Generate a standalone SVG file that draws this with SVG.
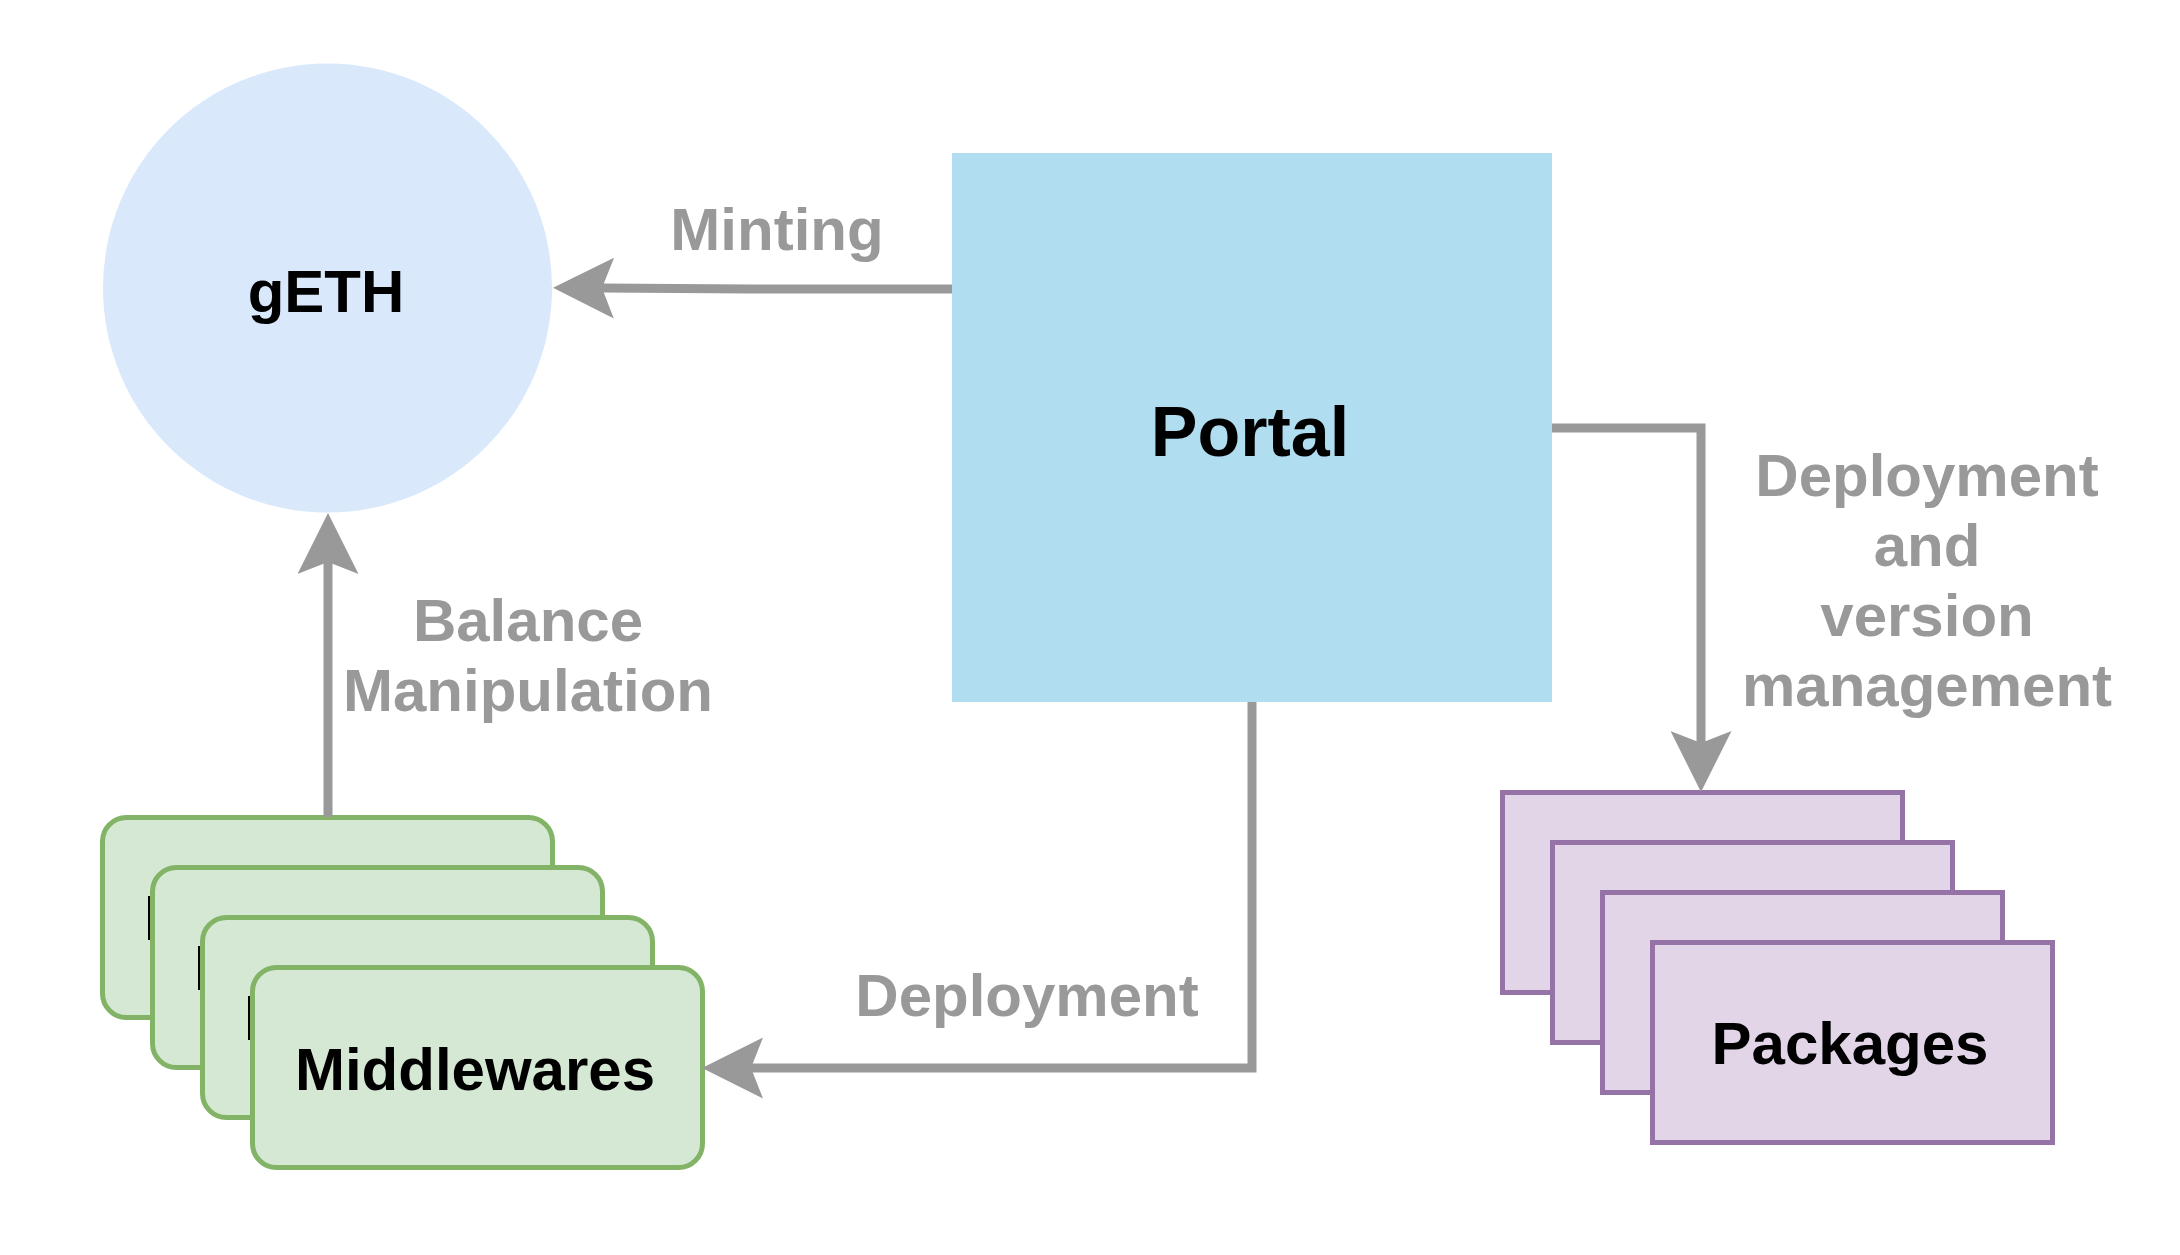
<svg xmlns="http://www.w3.org/2000/svg" width="2180" height="1255" viewBox="0 0 2180 1255">
  <defs>
    <style>
      .lbl { font-family: "Liberation Sans", Arial, Helvetica, sans-serif; font-weight: bold; font-size: 60px; fill: #999999; text-anchor: middle; }
      .node { font-family: "Liberation Sans", Arial, Helvetica, sans-serif; font-weight: bold; font-size: 60px; fill: #000000; text-anchor: middle; }
      .big { font-size: 70px; }
      .edge { fill: none; stroke: #999999; stroke-width: 9; stroke-linejoin: miter; }
      .mw { fill: #d5e8d4; stroke: #82b366; stroke-width: 5; }
      .pk { fill: #e1d5e7; stroke: #9673a6; stroke-width: 5; }
      .stem { fill: #000000; }
    </style>
    <marker id="arrow" viewBox="0 0 61 61" refX="12" refY="30.5" markerWidth="61" markerHeight="61" markerUnits="userSpaceOnUse" orient="auto">
      <path d="M61,30.5 L0,0 L12,30.5 L0,61 Z" fill="#999999"/>
    </marker>
  </defs>
  <rect width="2180" height="1255" fill="#ffffff"/>

  <g id="geth">
    <circle cx="327.5" cy="288" r="224.5" fill="#dae8fc"/>
    <text class="node" x="326" y="312">gETH</text>
  </g>

  <g id="portal">
    <rect x="952" y="153" width="600" height="549" fill="#b1ddf0"/>
    <text class="node big" x="1250" y="456">Portal</text>
  </g>

  <g id="middlewares">
    <rect class="mw" x="102.5" y="817.5" width="450" height="200" rx="24" ry="24"/>
    <rect class="stem" x="148" y="896" width="2.5" height="44"/>
    <rect class="mw" x="152.5" y="867.5" width="450" height="200" rx="24" ry="24"/>
    <rect class="stem" x="198" y="946" width="2.5" height="44"/>
    <rect class="mw" x="202.5" y="917.5" width="450" height="200" rx="24" ry="24"/>
    <rect class="stem" x="248" y="996" width="2.5" height="44"/>
    <rect class="mw" x="252.5" y="967.5" width="450" height="200" rx="24" ry="24"/>
    <text class="node" x="475" y="1090">Middlewares</text>
  </g>

  <g id="packages">
    <rect class="pk" x="1502.5" y="792.5" width="400" height="200"/>
    <rect class="pk" x="1552.5" y="842.5" width="400" height="200"/>
    <rect class="pk" x="1602.5" y="892.5" width="400" height="200"/>
    <rect class="pk" x="1652.5" y="942.5" width="400" height="200"/>
    <text class="node" x="1850" y="1064">Packages</text>
  </g>

  <g id="connectors">
    <path class="edge" d="M952,289 L750,289 L602,288" marker-end="url(#arrow)"/>
    <text class="lbl" x="777" y="250">Minting</text>

    <path class="edge" d="M328,817 L328,562" marker-end="url(#arrow)"/>
    <text class="lbl" x="528" y="641">Balance</text>
    <text class="lbl" x="528" y="711">Manipulation</text>

    <path class="edge" d="M1552,428 L1701,428 L1701,743" marker-end="url(#arrow)"/>
    <text class="lbl" x="1927" y="496">Deployment</text>
    <text class="lbl" x="1927" y="566">and</text>
    <text class="lbl" x="1927" y="636">version</text>
    <text class="lbl" x="1927" y="706">management</text>

    <path class="edge" d="M1252,702 L1252,1068 L751,1068" marker-end="url(#arrow)"/>
    <text class="lbl" x="1027" y="1016">Deployment</text>
  </g>
</svg>
